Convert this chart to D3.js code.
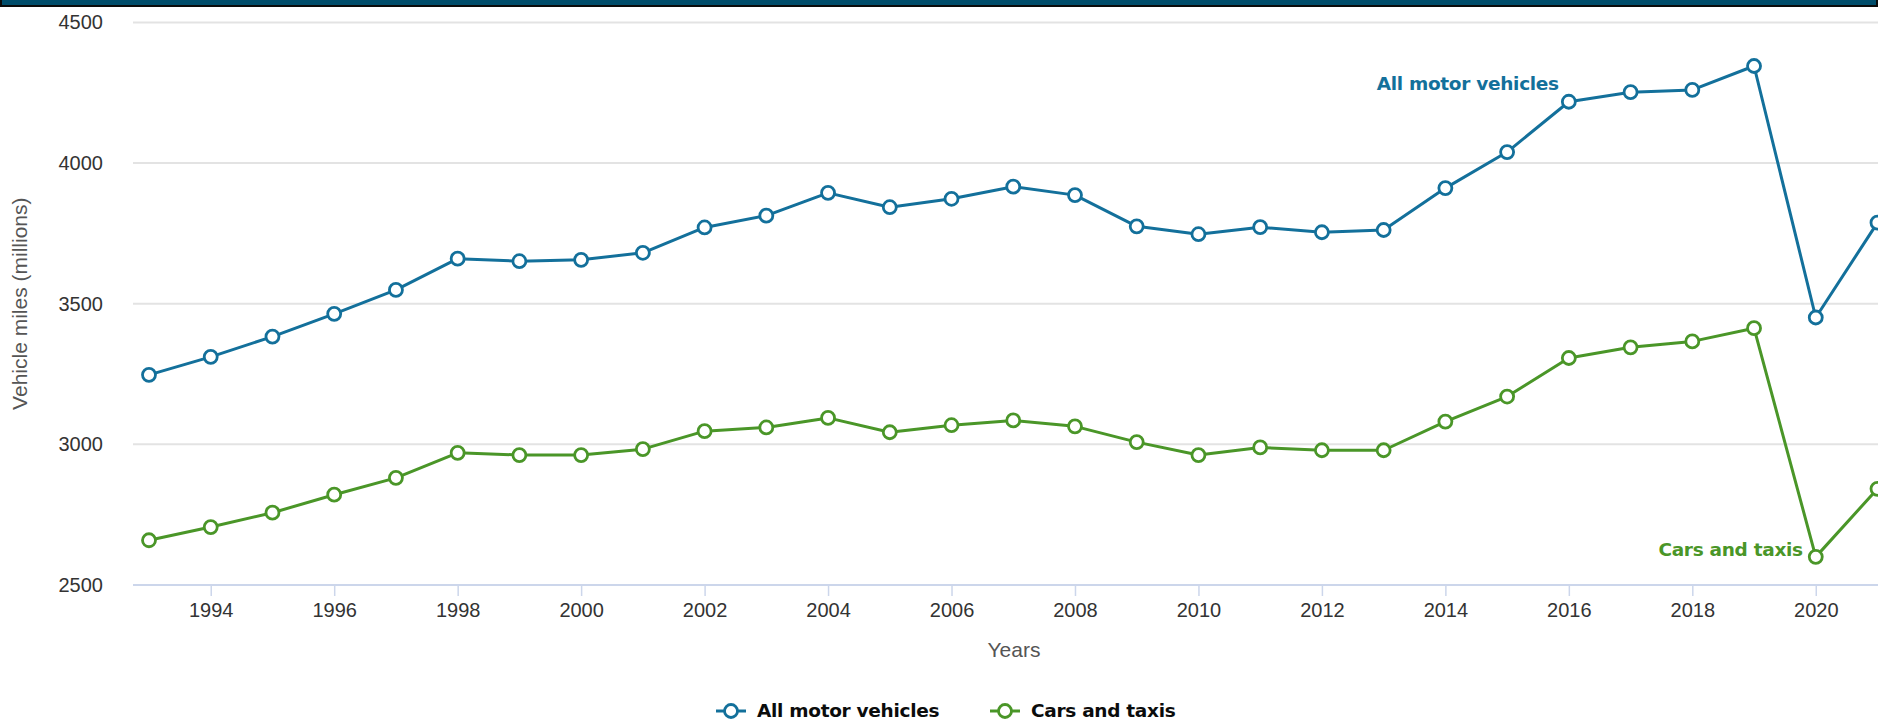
<!DOCTYPE html>
<html>
<head>
<meta charset="utf-8">
<script src="https://cdn.jsdelivr.net/npm/d3@7"></script>
<style>
  html, body { margin: 0; padding: 0; background: #ffffff; overflow: hidden; }
  svg { display: block; }
</style>
</head>
<body>
<svg id="chart" width="1878" height="722"></svg>
<script>
// Motor vehicle traffic, vehicle miles (millions), 1993 to 2021
const years = [1993, 1994, 1995, 1996, 1997, 1998, 1999, 2000, 2001, 2002,
  2003, 2004, 2005, 2006, 2007, 2008, 2009, 2010, 2011, 2012,
  2013, 2014, 2015, 2016, 2017, 2018, 2019, 2020, 2021];

const allMotorVehicles = [3247, 3311, 3383, 3464, 3549, 3660, 3651, 3656, 3681, 3771,
  3813, 3894, 3843, 3873, 3916, 3886, 3775, 3747, 3772, 3754,
  3762, 3911, 4039, 4218, 4252, 4260, 4345, 3451, 3788];

const carsAndTaxis = [2659, 2706, 2757, 2821, 2881, 2970, 2962, 2962, 2983, 3047,
  3060, 3094, 3043, 3068, 3085, 3064, 3008, 2962, 2989, 2979,
  2979, 3081, 3170, 3307, 3345, 3366, 3413, 2600, 2842];

const yTicks = [2500, 3000, 3500, 4000, 4500];
const xTicks = [1994, 1996, 1998, 2000, 2002, 2004, 2006, 2008, 2010, 2012, 2014, 2016, 2018, 2020];

const seriesNames = ["All motor vehicles", "Cars and taxis"];
const seriesColors = ["#13709b", "#4a9628"];

const series = [
  { name: seriesNames[0], color: seriesColors[0], values: allMotorVehicles },
  { name: seriesNames[1], color: seriesColors[1], values: carsAndTaxis }
];

const svg = d3.select("#chart");
const W = 1878, H = 722;
const plotLeft = 133, plotRight = 1900;

const x = d3.scaleLinear().domain([1993, 2021]).range([149, 1877.5]);
const y = d3.scaleLinear().domain([2500, 4500]).range([585, 22.4]);

const labelFont = "'Liberation Sans', Arial, sans-serif";
const boldFont = "'DejaVu Sans', Verdana, sans-serif";

// Header bar above the chart
svg.append("rect")
  .attr("x", 1).attr("y", -40).attr("width", W - 2).attr("height", 46)
  .attr("fill", "#004d6b").attr("stroke", "#0b0c0c").attr("stroke-width", 2);

// Horizontal gridlines
svg.append("g").selectAll("line")
  .data(yTicks.filter(d => d !== 2500))
  .join("line")
  .attr("x1", plotLeft).attr("x2", plotRight)
  .attr("y1", d => y(d)).attr("y2", d => y(d))
  .attr("stroke", "#e3e3e3").attr("stroke-width", 2);

// Y axis labels
svg.append("g").selectAll("text")
  .data(yTicks)
  .join("text")
  .attr("x", 103).attr("y", d => y(d))
  .attr("dy", "0.35em")
  .attr("text-anchor", "end")
  .attr("font-family", labelFont).attr("font-size", 20)
  .attr("fill", "#333333")
  .text(d => d);

// Y axis title
svg.append("text")
  .attr("transform", `translate(27,${(y(2500) + y(4500)) / 2}) rotate(-90)`)
  .attr("text-anchor", "middle")
  .attr("font-family", labelFont).attr("font-size", 21)
  .attr("fill", "#555555")
  .text("Vehicle miles (millions)");

// X axis
const xAxis = d3.axisBottom(x)
  .tickValues(xTicks)
  .tickFormat(d3.format("d"))
  .tickSizeInner(11)
  .tickSizeOuter(0)
  .tickPadding(7);

const xg = svg.append("g")
  .attr("transform", `translate(0,${y(2500)})`)
  .call(xAxis);
xg.select(".domain").remove();
xg.append("line")
  .attr("x1", plotLeft).attr("x2", plotRight)
  .attr("y1", 0).attr("y2", 0)
  .attr("stroke", "#ccd6eb").attr("stroke-width", 2);
xg.selectAll(".tick line").attr("stroke", "#ccd6eb").attr("stroke-width", 1.5);
xg.selectAll(".tick text")
  .attr("font-family", labelFont).attr("font-size", 20)
  .attr("fill", "#333333");

// X axis title
svg.append("text")
  .attr("x", 1014).attr("y", 657)
  .attr("text-anchor", "middle")
  .attr("font-family", labelFont).attr("font-size", 21)
  .attr("fill", "#555555")
  .text("Years");

// Lines and markers
const line = d3.line()
  .x((d, i) => x(years[i]))
  .y(d => y(d));

series.forEach(s => {
  const g = svg.append("g");
  g.append("path")
    .datum(s.values)
    .attr("d", line)
    .attr("fill", "none")
    .attr("stroke", s.color)
    .attr("stroke-width", 3)
    .attr("stroke-linejoin", "round");
  g.selectAll("circle")
    .data(s.values)
    .join("circle")
    .attr("cx", (d, i) => x(years[i]))
    .attr("cy", d => y(d))
    .attr("r", 6.5)
    .attr("fill", "#ffffff")
    .attr("stroke", s.color)
    .attr("stroke-width", 2.8);
});

// Series labels next to the lines
const idx2016 = years.indexOf(2016);
const idx2020 = years.indexOf(2020);
svg.append("text")
  .attr("x", x(years[idx2016]) - 10).attr("y", y(allMotorVehicles[idx2016]) - 12)
  .attr("text-anchor", "end")
  .attr("font-family", boldFont).attr("font-weight", 700).attr("font-size", 18.5)
  .attr("letter-spacing", -0.3)
  .attr("fill", seriesColors[0])
  .text(seriesNames[0]);
svg.append("text")
  .attr("x", x(years[idx2020]) - 13).attr("y", y(carsAndTaxis[idx2020]) - 1)
  .attr("text-anchor", "end")
  .attr("font-family", boldFont).attr("font-weight", 700).attr("font-size", 18.5)
  .attr("letter-spacing", -0.3)
  .attr("fill", seriesColors[1])
  .text(seriesNames[1]);

// Legend
const legendItems = [
  { x: 716, s: series[0] },
  { x: 990, s: series[1] }
];
const legendY = 711;
legendItems.forEach(item => {
  const g = svg.append("g").attr("transform", `translate(${item.x},${legendY})`);
  g.append("line")
    .attr("x1", 0).attr("x2", 30).attr("y1", 0).attr("y2", 0)
    .attr("stroke", item.s.color).attr("stroke-width", 3);
  g.append("circle")
    .attr("cx", 15).attr("cy", 0).attr("r", 6.5)
    .attr("fill", "#ffffff").attr("stroke", item.s.color).attr("stroke-width", 2.8);
  g.append("text")
    .attr("x", 41).attr("y", 0).attr("dy", "0.35em")
    .attr("font-family", boldFont).attr("font-weight", 700).attr("font-size", 18.5)
    .attr("letter-spacing", -0.3)
    .attr("fill", "#0b0c0c")
    .text(item.s.name);
});
</script>
</body>
</html>
